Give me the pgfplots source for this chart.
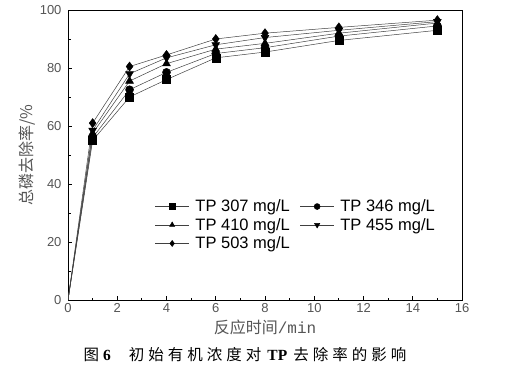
\documentclass[border=0pt]{standalone}
\usepackage{pgfplots}
\pgfplotsset{compat=1.18}
\usepackage{fontspec}
\setmainfont{Liberation Sans}
\newfontfamily\cjk{Noto Sans CJK SC}
\newfontfamily\serif{Liberation Serif}
\newfontfamily\mono{Liberation Mono}
\definecolor{txtgray}{HTML}{555555}
\begin{document}
\begin{tikzpicture}[x=1pt,y=1pt]
\useasboundingbox (0,0) rectangle (526,375);
\begin{axis}[
  scale only axis, width=394pt, height=290pt,
  at={(68pt,75pt)}, anchor=south west,
  xmin=0, xmax=16, ymin=0, ymax=100,
  xtick={0,2,...,16}, ytick={0,20,...,100},
  minor x tick num=1, minor y tick num=1,
  tick align=inside, tick pos=left,
  major tick length=4pt, minor tick length=2.5pt,
  axis line style={line width=0.8pt},
  tick style={black, line width=0.8pt},
  ticklabel style={font=\fontsize{13}{13}\selectfont, text=txtgray},
  yticklabel style={xshift=-3pt},
  /pgf/number format/assume math mode=true,
  xlabel={\cjk 反应时间\mono/min},
  ylabel={\cjk 总磷去除率/\%},
  xlabel style={font=\fontsize{16}{16}\selectfont, text=txtgray, yshift=0pt},
  ylabel style={font=\fontsize{16}{16}\selectfont, text=txtgray, yshift=-2pt},
  legend columns=2,
  legend style={draw=none, fill=none, at={(axis cs:3.4,36)}, anchor=north west,
    font=\fontsize{16.5}{16.5}\selectfont, row sep=1pt, column sep=4pt,
    /tikz/every even column/.append style={column sep=8pt}},
  legend image code/.code={\draw[mark indices={2},mark size=3pt] plot coordinates {(0pt,0pt)(17pt,0pt)(34pt,0pt)};},
  every axis plot/.append style={line width=0.5pt, color=black!75, mark options={fill=black, draw=black, solid}},
]
\addplot[mark=square*, mark size=4pt, mark indices={2,...,8}] coordinates {(0,0) (1,55) (2.5,70) (4,76) (6,83.5) (8,85.5) (11,89.5) (15,93)};
\addlegendentry{TP 307 mg/L}
\addplot[mark=*, mark size=4pt, mark indices={2,...,8}] coordinates {(0,0) (1,56) (2.5,72.5) (4,78.5) (6,85) (8,87) (11,91) (15,94.5)};
\addlegendentry{TP 346 mg/L}
\addplot[mark=triangle*, mark size=4.5pt, mark indices={2,...,8}] coordinates {(0,0) (1,57.5) (2.5,75.5) (4,81.5) (6,86.5) (8,88.5) (11,92) (15,95.5)};
\addlegendentry{TP 410 mg/L}
\addplot[mark=triangle*, mark options={rotate=180, fill=black, draw=black, solid}, mark size=4.5pt, mark indices={2,...,8}] coordinates {(0,0) (1,58.5) (2.5,78) (4,83.5) (6,88) (8,90.5) (11,93) (15,96)};
\addlegendentry{TP 455 mg/L}
\addplot[mark=diamond*, mark size=4.5pt, mark indices={2,...,8}] coordinates {(0,0) (1,61) (2.5,80.5) (4,84.5) (6,90) (8,92) (11,94) (15,96.5)};
\addlegendentry{TP 503 mg/L}
\end{axis}
\node[font=\fontsize{15.5}{15.5}\selectfont] at (245,20) {{\cjk 图}\hspace{4pt}{\serif\bfseries 6}\hspace{18pt}{\cjk 初\hspace{4pt}始\hspace{4pt}有\hspace{4pt}机\hspace{4pt}浓\hspace{4pt}度\hspace{4pt}对}\hspace{6pt}{\serif\bfseries TP}\hspace{6pt}{\cjk 去\hspace{4pt}除\hspace{4pt}率\hspace{4pt}的\hspace{4pt}影\hspace{4pt}响}};
\end{tikzpicture}
\end{document}
